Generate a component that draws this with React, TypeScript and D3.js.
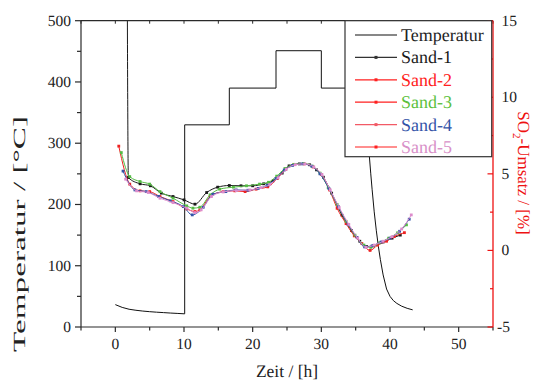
import React from "react";
import * as d3 from "d3";

// Furnace temperature programme (°C) over time (h)
const tempTime = [0, 1, 2, 3, 4, 5, 6, 7, 8, 9, 10.1, 10.1, 16.6, 16.6, 23.4, 23.4, 30.0, 30.0, 36.4, 36.6, 36.8, 37.0, 37.2, 37.4, 37.7, 38.0, 38.3, 38.6, 39.0, 39.5, 40.0, 40.5, 41.0, 41.7, 42.5, 43.3];
const tempValue = [36.5, 32, 29, 27.3, 26, 25, 24.2, 23.5, 22.8, 22.2, 21.5, 330, 330, 390, 390, 451, 451, 390, 390, 350, 312, 278, 250, 224, 188, 158, 132, 110, 85, 62, 50, 43, 38.5, 34, 30.5, 28];

// SO2 conversion (%) for the five sand samples
const sand1Time = [1.6, 1.9, 3.6, 5.1, 6.7, 8.4, 10.0, 11.6, 13.3, 14.9, 16.6, 18.3, 20.0, 21.6, 23.0, 24.3, 25.3, 26.8, 28.3, 29.3, 30.3, 31.5, 33.0, 34.4, 35.6, 36.6, 37.6, 39.0, 40.3, 41.5];
const sand1Value = [40, 4.76, 4.35, 4.22, 3.74, 3.52, 3.3, 3.02, 3.78, 4.13, 4.24, 4.22, 4.22, 4.35, 4.55, 5.05, 5.52, 5.65, 5.59, 5.26, 4.78, 3.74, 2.3, 1.3, 0.6, 0.25, 0.3, 0.55, 0.8, 1.0];

const sand2Time = [0.5, 2.1, 3.6, 5.0, 6.5, 8.4, 10.4, 11.6, 12.3, 13.8, 15.7, 17.4, 18.9, 20.5, 22.2, 23.6, 24.8, 26.0, 27.5, 28.8, 30.0, 31.2, 32.3, 33.6, 34.8, 35.9, 37.1, 38.2, 39.5, 40.6, 42.1];
const sand2Value = [6.81, 4.33, 3.89, 3.84, 3.52, 3.19, 2.71, 2.54, 2.65, 3.52, 3.84, 3.89, 3.84, 4.0, 4.15, 4.7, 5.3, 5.6, 5.65, 5.45, 4.95, 3.95, 2.75, 1.75, 0.95, 0.45, 0.0, 0.35, 0.6, 0.9, 1.16];

const sand3Time = [0.87, 2.1, 3.6, 5.0, 6.5, 8.4, 10.4, 11.3, 12.3, 13.8, 15.2, 17.2, 19.1, 21.0, 22.3, 23.5, 24.7, 26.0, 27.4, 28.7, 29.8, 31.0, 32.3, 33.6, 34.9, 36.2, 37.2, 38.5, 39.8, 41.1, 42.4];
const sand3Value = [6.39, 4.82, 4.5, 4.33, 3.84, 3.41, 2.91, 2.76, 2.82, 3.63, 4.0, 4.13, 4.22, 4.33, 4.45, 4.85, 5.35, 5.62, 5.68, 5.5, 5.05, 4.1, 3.0, 1.9, 1.0, 0.35, 0.2, 0.5, 0.8, 1.15, 1.67];

const sand4Time = [1.12, 2.85, 4.5, 6.3, 8.0, 9.9, 11.2, 12.8, 14.2, 16.1, 17.6, 19.3, 20.8, 22.1, 23.4, 24.6, 25.8, 27.2, 28.6, 29.8, 31.1, 32.5, 33.9, 35.2, 36.3, 37.4, 38.7, 40.0, 41.4, 42.8];
const sand4Value = [5.18, 3.95, 3.84, 3.52, 3.24, 2.86, 2.32, 2.82, 3.67, 3.84, 3.95, 3.93, 4.05, 4.25, 4.7, 5.25, 5.55, 5.65, 5.5, 5.0, 4.05, 2.85, 1.7, 0.85, 0.23, 0.3, 0.55, 0.8, 1.25, 2.04];

const sand5Time = [1.5, 3.1, 4.8, 6.5, 8.4, 10.4, 11.6, 12.5, 14.0, 15.7, 17.6, 19.6, 21.2, 22.5, 23.7, 24.9, 26.2, 27.6, 28.9, 30.1, 31.3, 32.6, 34.0, 35.3, 36.5, 37.7, 39.0, 40.3, 41.7, 43.1];
const sand5Value = [4.65, 3.89, 3.78, 3.41, 3.12, 2.76, 2.47, 2.65, 3.52, 3.82, 3.91, 3.95, 4.1, 4.3, 4.75, 5.3, 5.6, 5.65, 5.45, 4.95, 3.95, 2.8, 1.7, 0.8, 0.2, 0.35, 0.6, 0.9, 1.4, 2.32];

const seriesNames = ["Sand-1", "Sand-2", "Sand-3", "Sand-4", "Sand-5"];
const seriesColors = ["#1a1a1a", "#ee2222", "#55bb44", "#3354a8", "#dd8ccc"];
const legendLineColors = ["#333333", "#ff2020", "#ff2020", "#f25a66", "#ff2020"];
const legendTextColors = ["#1a1a1a", "#ff2020", "#5cbf3c", "#3354a8", "#d890c8"];

const xTicks = [0, 10, 20, 30, 40, 50];
const xMinor = [-5, 5, 15, 25, 35, 45, 55];
const yLeftTicks = [0, 100, 200, 300, 400, 500];
const yLeftMinor = [50, 150, 250, 350, 450];
const yRightTicks = [-5, 0, 5, 10, 15];
const yRightMinor = [-2.5, 2.5, 7.5, 12.5];

const W = 533;
const H = 383;
const L = 81;
const R = 493;
const T = 20.7;
const B = 327;
const FONT = "Liberation Serif";

export default function App() {
  const x = d3.scaleLinear().domain([-5, 55]).range([L, R]);
  const yT = d3.scaleLinear().domain([0, 500]).range([B, T]);
  const yS = d3.scaleLinear().domain([-5, 15]).range([B, T]);

  const tempLine = d3
    .line<number>()
    .x((_, i) => x(tempTime[i]))
    .y((v) => yT(v));

  const sandTimes = [sand1Time, sand2Time, sand3Time, sand4Time, sand5Time];
  const sandValues = [sand1Value, sand2Value, sand3Value, sand4Value, sand5Value];

  const sandLine = (times: number[]) =>
    d3
      .line<number>()
      .x((_, i) => x(times[i]))
      .y((v) => yS(v))
      .curve(d3.curveMonotoneX);

  const axisColor = "#2a2a2a";
  const red = "#ee1111";
  const ink = "#222";

  const legendX = 345;
  const legendY = T;
  const legendW = 146.7;
  const legendH = 136;
  const rowY = (i: number) => 35 + i * 22.4;
  const legendRows = [
    { name: "Temperatur", line: "#111", text: ink, marker: false },
    ...seriesNames.map((n, i) => ({
      name: n,
      line: legendLineColors[i],
      text: legendTextColors[i],
      marker: true,
    })),
  ];

  return (
    <svg
      width={W}
      height={H}
      style={{ position: "absolute", left: 0, top: 0, background: "#fff" }}
      textRendering="geometricPrecision"
    >
      <defs>
        <clipPath id="plotClip">
          <rect x={L} y={T} width={R - L} height={B - T} />
        </clipPath>
      </defs>
      <rect x={0} y={0} width={W} height={H} fill="#fff" />

      <g clipPath="url(#plotClip)">
        <path d={tempLine(tempValue) || ""} fill="none" stroke="#111" strokeWidth={1} />
        {sandValues.map((vals, s) => (
          <g key={seriesNames[s]}>
            <path
              d={sandLine(sandTimes[s])(vals) || ""}
              fill="none"
              stroke={seriesColors[s]}
              strokeWidth={1}
            />
            {vals.map((v, i) => (
              <rect
                key={i}
                x={x(sandTimes[s][i]) - 1.4}
                y={yS(v) - 1.4}
                width={2.8}
                height={2.8}
                fill={seriesColors[s]}
              />
            ))}
          </g>
        ))}
      </g>

      {/* frame: top, left and bottom axes */}
      <line x1={L} x2={R} y1={T} y2={T} stroke={axisColor} strokeWidth={1.2} />
      <line x1={L} x2={L} y1={T} y2={B} stroke={axisColor} strokeWidth={1.2} />
      <line x1={L} x2={R} y1={B} y2={B} stroke={axisColor} strokeWidth={1.2} />
      {[...xTicks, ...xMinor].map((t) => (
        <line key={"top" + t} x1={x(t)} x2={x(t)} y1={T} y2={T + 3} stroke={axisColor} strokeWidth={1} />
      ))}

      {/* left axis */}
      {yLeftTicks.map((t) => (
        <g key={"yl" + t}>
          <line x1={L - 6} x2={L} y1={yT(t)} y2={yT(t)} stroke={axisColor} strokeWidth={1.2} />
          <text x={71} y={yT(t) + 5} textAnchor="end" fontSize={15.5} fill={ink} fontFamily={FONT}>
            {t}
          </text>
        </g>
      ))}
      {yLeftMinor.map((t) => (
        <line key={"ylm" + t} x1={L - 4} x2={L} y1={yT(t)} y2={yT(t)} stroke={axisColor} strokeWidth={1.2} />
      ))}

      {/* bottom axis */}
      {xTicks.map((t) => (
        <g key={"xb" + t}>
          <line x1={x(t)} x2={x(t)} y1={B} y2={B + 5} stroke={axisColor} strokeWidth={1.2} />
          <text x={x(t)} y={349} textAnchor="middle" fontSize={15.5} fill={ink} fontFamily={FONT}>
            {t}
          </text>
        </g>
      ))}
      {xMinor.map((t) => (
        <line key={"xbm" + t} x1={x(t)} x2={x(t)} y1={B} y2={B + 3.5} stroke={axisColor} strokeWidth={1.2} />
      ))}

      {/* right axis */}
      <line x1={R} x2={R} y1={T} y2={B} stroke={red} strokeWidth={1.3} />
      {yRightTicks.map((t) => (
        <g key={"yr" + t}>
          <line x1={R - 5.5} x2={R} y1={yS(t)} y2={yS(t)} stroke={red} strokeWidth={1.2} />
          <text x={t < 0 ? 497 : 501.5} y={yS(t) + 5} textAnchor="start" fontSize={15.5} fill={ink} fontFamily={FONT}>
            {t}
          </text>
        </g>
      ))}
      {yRightMinor.map((t) => (
        <line key={"yrm" + t} x1={R - 3} x2={R} y1={yS(t)} y2={yS(t)} stroke={red} strokeWidth={1.2} />
      ))}

      {/* axis titles */}
      <text x={287} y={377} textAnchor="middle" fontSize={17.5} fill={ink} fontFamily={FONT}>
        Zeit / [h]
      </text>
      <text
        transform="translate(25,234) rotate(-90)"
        textAnchor="middle"
        fontSize={17}
        fill={ink}
        fontFamily={FONT}
        textLength={236}
        lengthAdjust="spacingAndGlyphs"
      >
        Temperatur / [°C]
      </text>
      <text transform="translate(518,173) rotate(90)" textAnchor="middle" fontSize={17} fill={red} fontFamily={FONT}>
        SO
        <tspan fontSize={11} dy={5}>2</tspan>
        <tspan dy={-5}>-Umsatz / [%]</tspan>
      </text>

      {/* legend */}
      <rect
        x={legendX}
        y={legendY}
        width={legendW}
        height={legendH}
        fill="#fff"
        stroke="#333"
        strokeWidth={1.2}
      />
      {legendRows.map((r, i) => (
        <g key={r.name}>
          <line x1={355} x2={397} y1={rowY(i)} y2={rowY(i)} stroke={r.line} strokeWidth={1.2} />
          {r.marker && <rect x={374.5} y={rowY(i) - 1.5} width={3} height={3} fill={r.line} />}
          <text x={401} y={rowY(i) + 6} fontSize={18} fill={r.text} fontFamily={FONT}>
            {r.name}
          </text>
        </g>
      ))}
    </svg>
  );
}
